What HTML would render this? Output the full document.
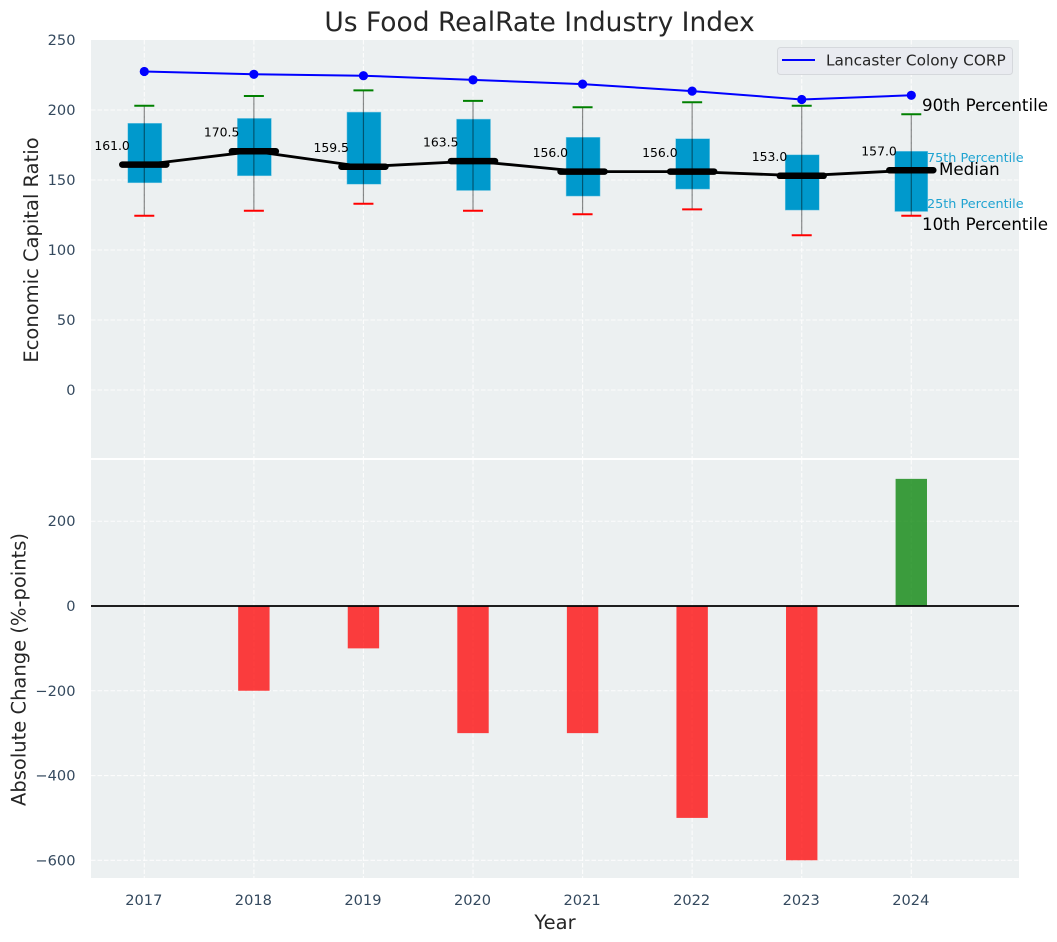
<!DOCTYPE html>
<html>
<head>
<meta charset="utf-8">
<title>Us Food RealRate Industry Index</title>
<style>
html,body{margin:0;padding:0;background:#fff;}
svg{display:block;font-family:"DejaVu Sans","Liberation Sans",sans-serif;}
</style>
</head>
<body>
<svg id="chart" xmlns="http://www.w3.org/2000/svg" width="1057" height="942" viewBox="0 0 1057 942"></svg>
<script>
const years = [2017, 2018, 2019, 2020, 2021, 2022, 2023, 2024];
const companyValues = [227.5, 225.5, 224.5, 221.5, 218.5, 213.5, 207.5, 210.5];
const medians = [161.0, 170.5, 159.5, 163.5, 156.0, 156.0, 153.0, 157.0];
const p10 = [124.5, 128, 133, 128, 125.5, 129, 110.5, 124.5];
const p25 = [148, 153, 147, 142.5, 138.5, 143.5, 128.5, 127.5];
const p75 = [190.5, 194, 198.5, 193.5, 180.5, 179.5, 168, 170.5];
const p90 = [203, 210, 214, 206.5, 202, 205.5, 203, 197];
const changes = [0, -200, -100, -300, -300, -500, -600, 300];
const topTicks = [0, 50, 100, 150, 200, 250];
const bottomTicks = [-600, -400, -200, 0, 200];

const svg = document.getElementById('chart');
const NS = 'http://www.w3.org/2000/svg';
const L = 91, R = 1019, T1 = 40, B1 = 458.5, T2 = 460, B2 = 878;
function xS(y) { return 144.3 + (y - 2017) * 109.57; }
function yTop(v) { return 390 - v * 1.4; }
function yBot(v) { return 606 - v * 0.4238; }

function add(tag, attrs, name, text) {
  const el = document.createElementNS(NS, tag);
  for (const k in attrs) el.setAttribute(k, attrs[k]);
  
  
  if (text !== undefined) el.textContent = text;
  svg.appendChild(el);
  return el;
}
const GRID = {stroke: '#fff', 'stroke-width': 1.1, 'stroke-dasharray': '4.5 2', opacity: 0.85};
const TICK = '#34495e';

add('rect', {x: L, y: T1, width: R - L, height: B1 - T1, fill: '#ecf0f1'}, 'top-panel-background');
add('rect', {x: L, y: T2, width: R - L, height: B2 - T2, fill: '#ecf0f1'}, 'bottom-panel-background');

topTicks.forEach(function (t) {
  if (t !== 250) add('line', Object.assign({x1: L, x2: R, y1: yTop(t), y2: yTop(t)}, GRID), 'top-grid-line-y');
  add('text', {x: 75.5, y: yTop(t) + 5, 'text-anchor': 'end', 'font-size': 14.6, fill: TICK}, 'top-y-tick-label', String(t));
});
bottomTicks.forEach(function (t) {
  add('line', Object.assign({x1: L, x2: R, y1: yBot(t), y2: yBot(t)}, GRID), 'bottom-grid-line-y');
  add('text', {x: 75.5, y: yBot(t) + 5, 'text-anchor': 'end', 'font-size': 14.6, fill: TICK}, 'bottom-y-tick-label', String(t).replace('-', '\u2212'));
});
years.forEach(function (yr) {
  const x = xS(yr);
  add('line', Object.assign({x1: x, x2: x, y1: T1, y2: B1}, GRID), 'top-grid-line-x');
  add('line', Object.assign({x1: x, x2: x, y1: T2, y2: B2}, GRID), 'bottom-grid-line-x');
  add('text', {x: x - 0.5, y: 905, 'text-anchor': 'middle', 'font-size': 14.6, fill: TICK}, 'x-tick-label', String(yr));
});

/* separator between panels */
add('line', {x1: L, x2: R, y1: 459, y2: 459, stroke: '#fff', 'stroke-width': 2}, 'panel-separator');

/* boxes */
years.forEach(function (yr, i) {
  const x = xS(yr);
  const w = i === years.length - 1 ? 33 : 34;
  add('rect', {x: x - 16.5, y: yTop(p75[i]), width: w, height: yTop(p25[i]) - yTop(p75[i]), fill: '#0099cc', stroke: '#7fcbe4', 'stroke-width': 0.5}, 'iqr-box-' + yr);
});
/* whiskers and caps */
years.forEach(function (yr, i) {
  const x = xS(yr);
  add('line', {x1: x, x2: x, y1: yTop(p90[i]), y2: yTop(p10[i]), stroke: '#000', 'stroke-opacity': 0.45, 'stroke-width': 1.2}, 'whisker-' + yr);
  add('line', {x1: x - 10, x2: x + 10, y1: yTop(p90[i]), y2: yTop(p90[i]), stroke: '#008000', 'stroke-width': 2}, 'p90-cap-' + yr);
  add('line', {x1: x - 10, x2: x + 10, y1: yTop(p10[i]), y2: yTop(p10[i]), stroke: '#ff0000', 'stroke-width': 2}, 'p10-cap-' + yr);
});
/* median line */
add('polyline', {points: years.map(function (yr, i) { return xS(yr) + ',' + yTop(medians[i]); }).join(' '), fill: 'none', stroke: '#000', 'stroke-width': 2.8}, 'median-trend-line');
years.forEach(function (yr, i) {
  const x = xS(yr);
  add('line', {x1: x - 22, x2: x + 22, y1: yTop(medians[i]), y2: yTop(medians[i]), stroke: '#000', 'stroke-width': 6.5, 'stroke-linecap': 'round'}, 'median-bar-' + yr);
  add('text', {x: x - 14.5, y: yTop(medians[i]) - 14.6, 'text-anchor': 'end', 'font-size': 12.4, fill: '#000'}, 'median-value-label-' + yr, medians[i].toFixed(1));
});
/* company line */
add('polyline', {points: years.map(function (yr, i) { return xS(yr) + ',' + yTop(companyValues[i]); }).join(' '), fill: 'none', stroke: '#0000ff', 'stroke-width': 2}, 'company-line');
years.forEach(function (yr, i) {
  add('circle', {cx: xS(yr), cy: yTop(companyValues[i]), r: 4.6, fill: '#0000ff'}, 'company-point-' + yr);
});

/* change bars */
years.forEach(function (yr, i) {
  if (changes[i] === 0) return;
  const y0 = yBot(0), y1 = yBot(changes[i]);
  add('rect', {x: xS(yr) - 15.7, y: Math.min(y0, y1), width: 31.4, height: Math.abs(y1 - y0), fill: changes[i] < 0 ? '#ff0000' : '#008000', 'fill-opacity': 0.75}, 'change-bar-' + yr);
});
add('line', {x1: L, x2: R, y1: yBot(0), y2: yBot(0), stroke: '#000', 'stroke-width': 1.7}, 'zero-line');

/* percentile annotations */
add('text', {x: 922, y: 111, 'font-size': 16.7, fill: '#000'}, 'p90-annotation', '90th Percentile');
add('text', {x: 927, y: 162, 'font-size': 12.8, fill: '#1fa3d1'}, 'p75-annotation', '75th Percentile');
add('text', {x: 939, y: 175, 'font-size': 16.7, fill: '#000'}, 'median-annotation', 'Median');
add('text', {x: 927, y: 208, 'font-size': 12.8, fill: '#1fa3d1'}, 'p25-annotation', '25th Percentile');
add('text', {x: 922, y: 230, 'font-size': 16.7, fill: '#000'}, 'p10-annotation', '10th Percentile');

/* legend */
add('rect', {x: 777.5, y: 47.5, width: 235, height: 27, rx: 3, fill: '#e9ebf0', stroke: '#d5d8dc', 'stroke-width': 1}, 'legend-box');
add('line', {x1: 782, x2: 815, y1: 60, y2: 60, stroke: '#0000ff', 'stroke-width': 2}, 'legend-line');
add('text', {x: 826, y: 65.5, 'font-size': 15.3, fill: '#262626'}, 'legend-label', 'Lancaster Colony CORP');

/* titles */
add('text', {x: 539.5, y: 31, 'text-anchor': 'middle', 'font-size': 26.5, fill: '#262626'}, 'chart-title', 'Us Food RealRate Industry Index');
add('text', {x: 555, y: 929, 'text-anchor': 'middle', 'font-size': 19.5, fill: '#262626'}, 'x-axis-title', 'Year');
add('text', {x: 38, y: 250, 'text-anchor': 'middle', 'font-size': 19.5, fill: '#262626', transform: 'rotate(-90 38 250)'}, 'top-y-axis-title', 'Economic Capital Ratio');
add('text', {x: 25.5, y: 669.5, 'text-anchor': 'middle', 'font-size': 19.5, fill: '#262626', transform: 'rotate(-90 25.5 669.5)'}, 'bottom-y-axis-title', 'Absolute Change (%-points)');
</script>
</body>
</html>
